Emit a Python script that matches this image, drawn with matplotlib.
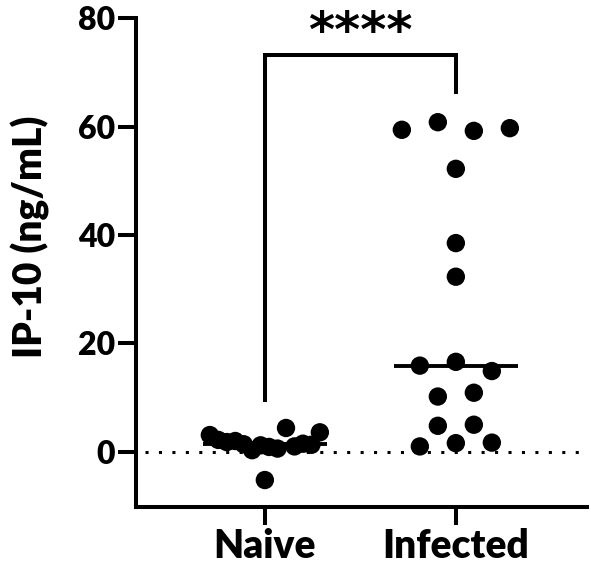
import numpy as np
import matplotlib
matplotlib.use('Agg')
import matplotlib.pyplot as plt

plt.rcParams['font.family'] = ['Lato', 'DejaVu Sans']
plt.rcParams['font.weight'] = 'bold'

groups = ['Naive', 'Infected']
naive = [3.1, 2.2, 1.8, 2.0, 1.4, 0.3, 1.2, 0.9, 0.6, 4.4, 1.0, 1.5, 1.3, 3.6, -5.2]
infected = [59.4, 60.8, 59.2, 59.7, 52.2, 38.5, 32.3, 15.9, 16.6, 14.9,
            10.2, 10.9, 4.8, 5.0, 1.0, 1.6, 1.7]
y_ticks = [0, 20, 40, 60, 80]
stars = '****'


def swarm_offsets(vals, gap=3.0, step=0.1885, half=0.288):
    # points that sit close in y share a row, spread out across the column
    vals = np.asarray(vals, dtype=float)
    order = np.argsort(vals, kind='stable')
    rows, cur = [], [order[0]]
    for a, b in zip(order[:-1], order[1:]):
        if vals[b] - vals[a] < gap:
            cur.append(b)
        else:
            rows.append(cur)
            cur = [b]
    rows.append(cur)
    off = np.zeros(len(vals))
    for r in rows:
        r = sorted(r)
        n = len(r)
        if n == 1:
            continue
        s = min(step, 2 * half / (n - 1))
        for k, i in enumerate(r):
            off[i] = (k - (n - 1) / 2) * s
    return off


fig = plt.figure(figsize=(5.91, 5.66), dpi=100)
ax = fig.add_axes([0.230, 0.104, 0.763, 0.864])

for i, vals in enumerate([naive, infected]):
    xs = i + swarm_offsets(vals)
    ax.scatter(xs, vals, s=175, color='black', edgecolors='none', zorder=3)
    med = np.median(vals)
    ax.plot([i - 0.325, i + 0.325], [med, med], color='black', lw=2.8,
            solid_capstyle='butt', zorder=4)

# zero reference line
ax.plot([-0.63, 1.686], [0, 0], color='black', lw=2.2, dashes=(1, 3.4),
        dash_capstyle='butt', zorder=1)

# significance bracket
ax.plot([0, 0, 1, 1], [9.6, 73.2, 73.2, 66.4], color='black', lw=2.9,
        solid_joinstyle='miter', zorder=2)
ax.text(0.5, 74.6, stars, ha='center', va='baseline', fontsize=36,
        fontweight='bold', family='DejaVu Sans')

ax.set_xlim(-0.675, 1.686)
ax.set_ylim(-10.2, 80)
ax.set_xticks([0, 1])
ax.set_xticklabels(groups, fontsize=28, fontweight='heavy')
ax.set_yticks(y_ticks)
ax.set_yticklabels([str(t) for t in y_ticks], fontsize=23, fontweight='heavy')
ax.set_ylabel('IP-10 (ng/mL)', fontsize=28, fontweight='heavy')
ax.yaxis.set_label_coords(-0.19, 0.552)

for side in ['top', 'right']:
    ax.spines[side].set_visible(False)
for side in ['left', 'bottom']:
    ax.spines[side].set_linewidth(2.9)
ax.tick_params(axis='both', width=2.9, length=13, pad=2)

fig.savefig('out.png', dpi=100)
